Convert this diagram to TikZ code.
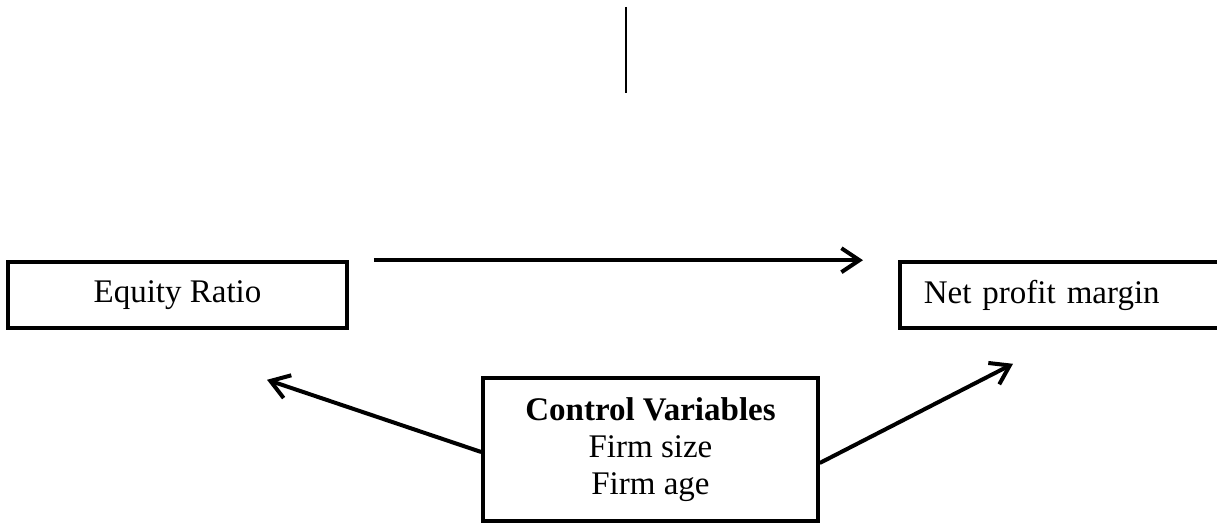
\documentclass[tikz,border=0pt]{standalone}
\usepackage{fontspec}
\setmainfont{Liberation Serif}
\usetikzlibrary{arrows.meta,positioning}

\begin{document}
\begin{tikzpicture}[
  x=0.5pt, y=0.5pt,
  box/.style={draw, line width=1.8pt, inner sep=0pt, minimum height=33pt, font=\fontsize{16.5}{18.5}\selectfont},
  arrow/.style={-{Straight Barb[length=9pt,width=12pt,line width=2pt]}, line width=2pt}
]
\useasboundingbox (0,0) rectangle (1217,523);
\node[box, minimum width=169.5pt] (equity) at (177.5,228) {Equity Ratio};
\node[box, anchor=west, minimum width=162pt, text width=138pt, inner xsep=12pt, align=left] (netprofit) at (898,228) {Net profit margin};
\node[box, minimum width=167.5pt, minimum height=71.5pt, align=center] (control) at (650.5,73.5) {\textbf{Control Variables}\\Firm size\\Firm age};
\coordinate (topline) at (626,516);
\coordinate (topend) at (626,430);
\draw[line width=1pt] (topline) -- (topend);
\draw[arrow] ([xshift=12.5pt]equity.north east) -- ([xshift=-17.5pt]netprofit.north west);
\draw[arrow] ([yshift=-1.25pt]control.west) -- ([xshift=44.75pt,yshift=-25pt]equity.south);
\draw[arrow] ([yshift=-6.75pt]control.east) -- ([xshift=57.5pt,yshift=-17pt]netprofit.south west);
\end{tikzpicture}
\end{document}
